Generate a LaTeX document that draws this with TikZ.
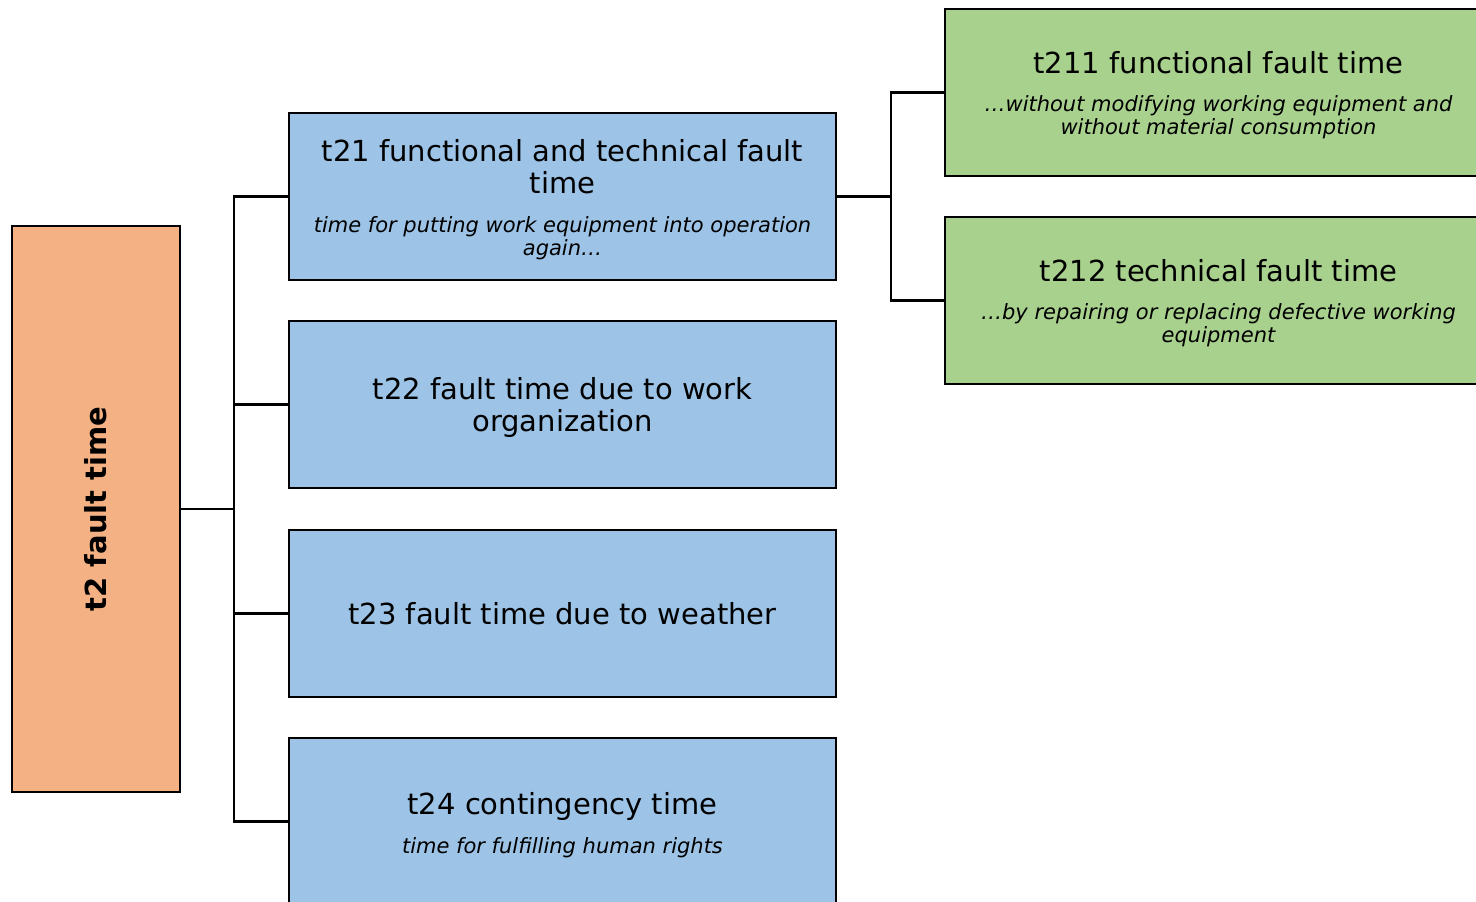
\documentclass[tikz,border=0pt]{standalone}
\usepackage{fontspec}
\usepackage{graphicx}
\setmainfont{DejaVu Sans}
\definecolor{orng}{HTML}{F4B183}
\definecolor{blu}{HTML}{9DC3E6}
\definecolor{grn}{HTML}{A9D18E}
\newcommand{\ctrset}{\spaceskip=0pt\xspaceskip=0pt\leftskip=0pt plus 1fil\rightskip=0pt plus 1fil\parfillskip=0pt\relax}
\newcommand{\ttlfont}{\fontsize{29}{32}\selectfont\ctrset}
\newcommand{\subtxtfont}{\fontsize{21}{23}\selectfont\itshape\ctrset}
\tikzset{
  basebox/.style={draw=black, line width=2.5pt, minimum width=547pt, minimum height=167pt,
    inner sep=0pt, text width=530pt, align=center},
  bluebox/.style={basebox, fill=blu},
  greenbox/.style={basebox, fill=grn},
  conn/.style={draw=black, line width=2.5pt, line join=miter}
}
\begin{document}
\begin{tikzpicture}[x=1pt,y=-1pt]
\useasboundingbox (0,0) rectangle (1476,902);
\clip (0,0) rectangle (1476,902);

\node[draw=black, line width=2.5pt, fill=orng, minimum width=168pt, minimum height=566pt, inner sep=0pt]
  (o) at (96,509) {\rotatebox{90}{\ttlfont\bfseries t2 fault time}};

\node[bluebox] (b21) at (562.5,196.5) {{\ttlfont t21 functional and technical fault\\ time\par}\vskip 16pt{\subtxtfont time for putting work equipment into operation\\ again…\par}\kern-6pt};
\node[bluebox] (b22) at (562.5,404.5) {{\ttlfont t22 fault time due to work\\ organization\par}\kern-6pt};
\node[bluebox] (b23) at (562.5,613.5) {{\ttlfont t23 fault time due to weather\par}};
\node[bluebox] (b24) at (562.5,821.5) {{\ttlfont t24 contingency time\par}\vskip 16pt{\subtxtfont time for fulfilling human rights\par}\kern-8pt};

\node[greenbox] (g1) at (1218.5,92.5) {{\ttlfont t211 functional fault time\par}\vskip 15pt{\subtxtfont …without modifying working equipment and\\ without material consumption\par}\kern-6pt};
\node[greenbox] (g2) at (1218.5,300.5) {{\ttlfont t212 technical fault time\par}\vskip 15pt{\subtxtfont …by repairing or replacing defective working\\ equipment\par}\kern-6pt};

\coordinate (j) at (234,509);
\coordinate (k) at (891,196.5);
\draw[conn] (o.east) -- (j);
\draw[conn] (b21.west) -| (j);
\draw[conn] (b22.west) -| (j);
\draw[conn] (b23.west) -| (j);
\draw[conn] (b24.west) -| (j);
\draw[conn] (b21.east) -- (k);
\draw[conn] (g1.west) -| (k);
\draw[conn] (g2.west) -| (k);
\end{tikzpicture}
\end{document}
